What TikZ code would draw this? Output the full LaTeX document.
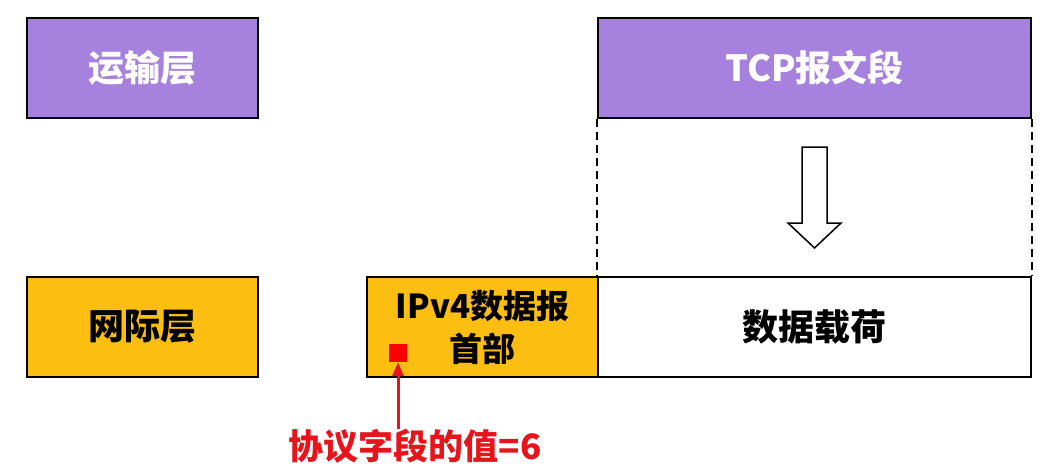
\documentclass[tikz,border=0pt]{standalone}
\usepackage{fontspec}
\setmainfont{Noto Sans CJK SC}
\usetikzlibrary{arrows.meta}
\definecolor{purp}{HTML}{A781DE}
\definecolor{orng}{HTML}{FDBE12}
\definecolor{redc}{HTML}{E8141C}
\tikzset{
  layerbox/.style={draw=black, line width=2pt, minimum width=231pt, minimum height=100pt, inner sep=0pt, font=\fontsize{36}{43}\selectfont\bfseries, align=center},
  guide/.style={black, line width=1.5pt, dash pattern=on 8pt off 5pt},
}
\begin{document}
\begin{tikzpicture}[x=1pt,y=-1pt]
\useasboundingbox (0,0) rectangle (1059,476);
\node[layerbox, fill=purp, text=white] (tl) at (142.5,68) {运输层};
\node[layerbox, fill=purp, text=white, minimum width=433pt] (tcp) at (814.5,68) {TCP报文段};
\node[layerbox, fill=orng] (nl) at (142.5,327) {网际层};
\node[layerbox, fill=orng, font=\fontsize{33}{43}\selectfont\bfseries] (hdr) at (482.5,327) {IPv4数据报\\首部};
\node[layerbox, fill=white, minimum width=433pt] (pay) at (814.5,327) {数据载荷};
\draw[guide] (tcp.south west) -- (pay.north west);
\draw[guide] (tcp.south east) -- (pay.north east);
\draw[black, line width=1.5pt, fill=white, line join=miter]
  (802,147) -- (827,147) -- (827,223) -- (841,223) -- (814.5,248) -- (788,223) -- (802,223) -- cycle;
\node[fill=red, minimum size=18pt, inner sep=0pt] (sq) at (398,353) {};
\node[text=redc, font=\fontsize{35}{40}\selectfont\bfseries] (lbl) at (415,446) {协议字段的值=6};
\draw[redc, line width=3pt, -{Triangle[length=14pt,width=11pt]}] (lbl.north -| sq.south) ++(0,4) coordinate (c1) -- (sq.south);
\end{tikzpicture}
\end{document}
